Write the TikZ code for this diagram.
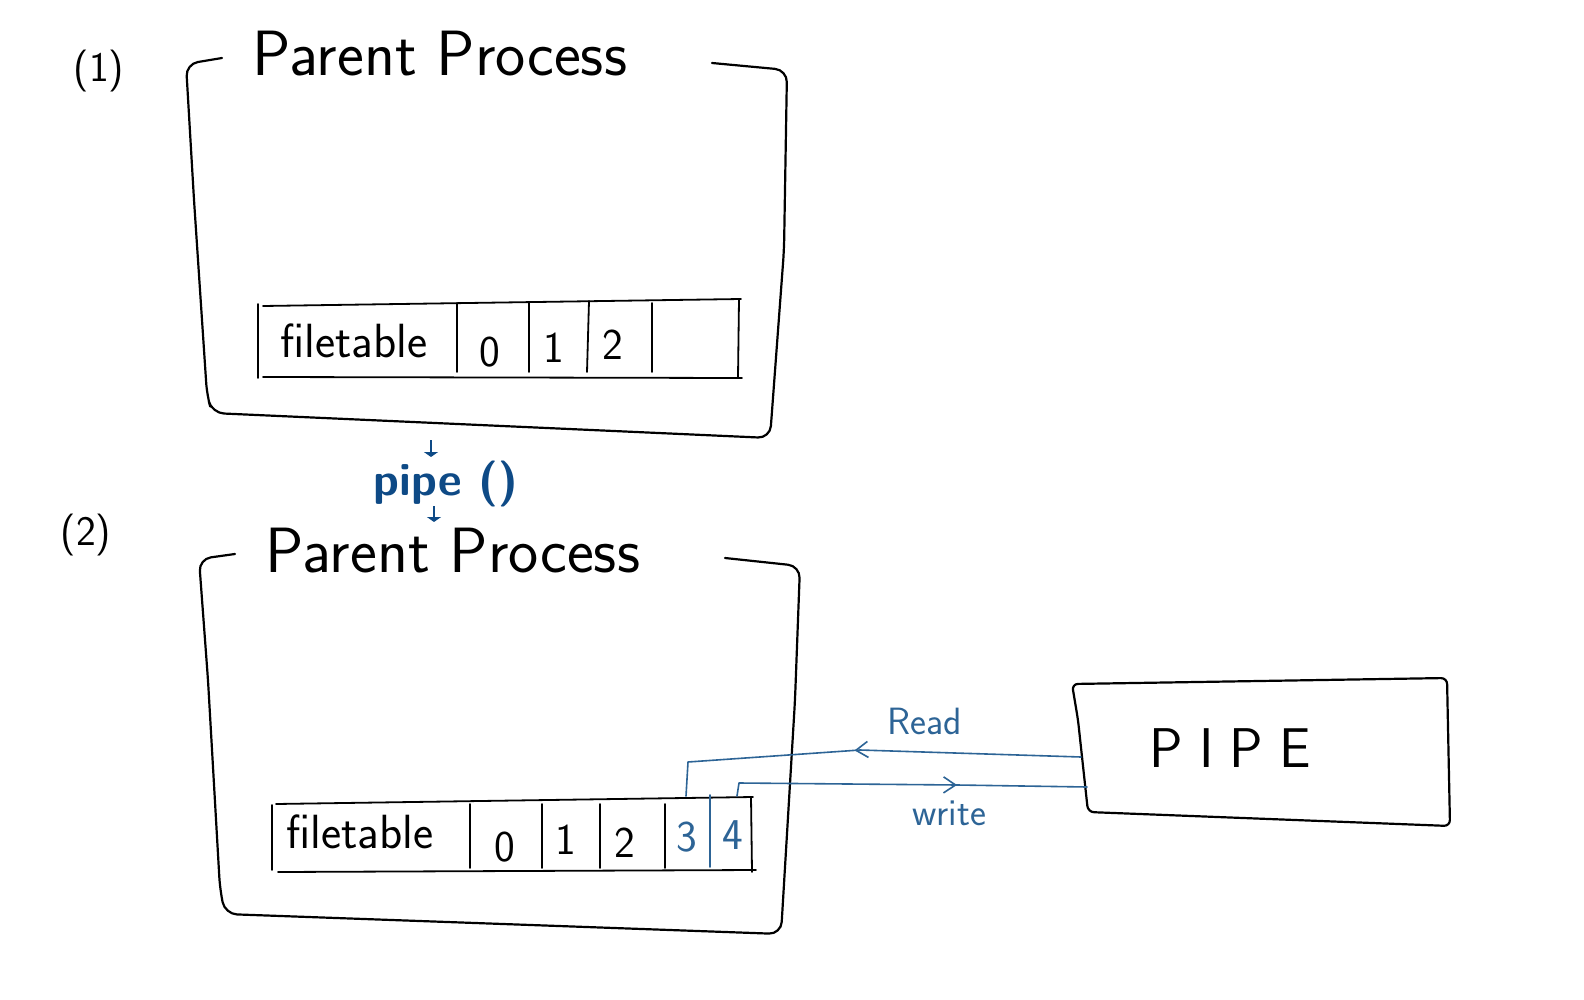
\documentclass[tikz,border=0pt]{standalone}
\usepackage{fontspec}
\usetikzlibrary{arrows.meta,decorations.markings}
\definecolor{inkblue}{RGB}{14,74,134}
\definecolor{lineblue}{RGB}{45,100,150}
\tikzset{
  hand/.style={line width=1.1pt, line join=round, line cap=round, rounded corners=6pt},
  tabline/.style={line width=0.9pt, line cap=round},
  blueline/.style={draw=lineblue, line width=0.8pt, line cap=round, line join=round},
  txt/.style={font=\sffamily\fontsize{#1}{#1}\selectfont, inner sep=0pt},
  smallarrow/.style={draw=inkblue, line width=1.3pt, -{Triangle[width=7pt,length=2.5pt]}},
  midarrow/.style={postaction={decorate}, decoration={markings, mark=at position #1 with {\arrow{Straight Barb[length=6pt,width=8pt,line width=0.8pt]}}}}
}
\begin{document}
\begin{tikzpicture}[x=0.5pt,y=-0.5pt]
\useasboundingbox[fill=white] (0,0) rectangle (1584,1000);

% ---------- (1) ----------
\node[txt=21] (lab1) at (99,71) {(1)};
\node[txt=32] (title1) at (440,54) {Parent Process};
\draw[hand] (222,58) -- (186,64) -- (194,200) -- (207,395) -- (212,413) -- (770,438) -- (784,250) -- (787,70) -- (712,63);

% file table 1
\draw[tabline] (258,304) -- (258,378);
\draw[tabline] (263,306) -- (741,299);
\draw[tabline] (739,299) -- (738,377);
\draw[tabline] (263,377) -- (742,378);
\foreach \x in {457,529,652} \draw[tabline] (\x,303) -- (\x,372);
\draw[tabline] (589,301) -- (587,372);
\node[txt=24] (ft1) at (354,341) {filetable};
\node[txt=22] (c10) at (490,352) {0};
\node[txt=22] (c11) at (554,348) {1};
\node[txt=22] (c12) at (613,345) {2};

% ---------- pipe() ----------
\node[txt=24, font=\sffamily\bfseries\fontsize{23}{23}\selectfont, text=inkblue] (pipecall) at (446,484) {pipe ()};
\coordinate (a1s) at (431,440);
\coordinate (a1e) at (431,457);
\coordinate (a2s) at (434,506);
\coordinate (a2e) at (434,522);
\draw[smallarrow] (a1s) -- (a1e);
\draw[smallarrow] (a2s) -- (a2e);

% ---------- (2) ----------
\node[txt=21] (lab2) at (86,535) {(2)};
\node[txt=32] (title2) at (453,551) {Parent Process};
\draw[hand] (235,554) -- (199,559) -- (208,680) -- (220,889) -- (225,914) -- (781,934) -- (795,700) -- (800,566) -- (725,558);

% file table 2
\draw[tabline] (272,805) -- (272,870);
\draw[tabline] (276,804) -- (753,797);
\draw[tabline] (751,797) -- (752,872);
\draw[tabline] (278,872) -- (756,870);
\foreach \x in {470,542,600,665} \draw[tabline] (\x,804) -- (\x,868);
\draw[tabline, draw=lineblue] (710,795) -- (710,867);
\node[txt=24] (ft2) at (360,832) {filetable};
\node[txt=22] (c20) at (505,847) {0};
\node[txt=22] (c21) at (566,840) {1};
\node[txt=22] (c22) at (625,843) {2};
\node[txt=22, text=lineblue] (c23) at (687,837) {3};
\node[txt=22, text=lineblue] (c24) at (733,835) {4};
\coordinate (c3t) at (686,796);
\coordinate (c4t) at (737,796);

% ---------- PIPE ----------
\draw[hand, rounded corners=3pt] (1072,684) -- (1447,678) -- (1450,826) -- (1088,812) -- (1078,720) -- cycle;
\node[txt=28] (pipetxt) at (1230,748) {P\hspace{8pt}I\hspace{8pt}P\hspace{8pt}E};
\coordinate (rs) at (1081,757);
\coordinate (rm) at (860,750);
\coordinate (rc) at (688,762);
\coordinate (ws) at (739,783);
\coordinate (wm) at (957,785);
\coordinate (we) at (1087,787);

% Read / write connectors
\draw[blueline, midarrow=0.53] (rs) -- (rm) -- (rc) -- (c3t);
\draw[blueline, midarrow=0.64] (c4t) -- (ws) -- (wm) -- (we);
\node[txt=19, text=lineblue] (readlab) at (925,721) {Read};
\node[txt=19, text=lineblue] (writelab) at (949,813) {write};
\end{tikzpicture}
\end{document}
